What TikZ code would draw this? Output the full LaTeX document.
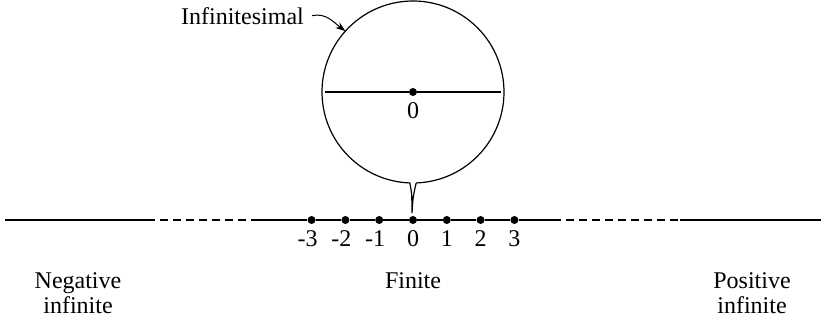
\documentclass[tikz,border=0pt]{standalone}
\usepackage{fontspec}
\setmainfont{Liberation Serif}
\usetikzlibrary{arrows.meta,positioning}
\tikzset{
  >={Stealth[length=10pt,width=7pt]},
  every node/.style={font=\fontsize{24}{25}\selectfont},
  axis/.style={line width=1.3pt},
  far/.style={axis,dash pattern=on 8pt off 5pt},
  dot/.style={circle,fill=black,inner sep=0pt,minimum size=8pt},
  num/.style={inner sep=1pt},
  region/.style={align=center,anchor=base,inner sep=0pt},
  bubble/.style={circle,minimum size=182pt,inner sep=0pt,outer sep=0pt},
}

\begin{document}
\begin{tikzpicture}[x=1pt,y=1pt]
  \useasboundingbox (0,0) rectangle (821,-323);

  % the real line with its finite points
  \foreach \n in {-3,...,3}{
    \node[dot] (d\n) at ({413+33.8*\n},-220) {};
  }
  \foreach \n in {0,1,2,3}
    \node[num,below=5pt of d\n] (l\n) {\n};
  \foreach \n in {1,2,3}
    \node[num,below=5pt of d-\n] (l-\n) {\llap{-}\n};

  \coordinate (ax0) at (5,-220);
  \coordinate (ax1) at (147,-220);
  \coordinate (ax2) at (257,-220);
  \coordinate (ax3) at (553,-220);
  \coordinate (ax4) at (680,-220);
  \coordinate (ax5) at (821,-220);
  \draw[axis] (ax0) -- (ax1);
  \draw[far] (ax1) -- (ax2);
  \draw[axis] (ax2) -- (d-3) -- (d-2) -- (d-1) -- (d0) -- (d1) -- (d2) -- (d3) -- (ax3);
  \draw[far] (ax3) -- (ax4);
  \draw[axis] (ax4) -- (ax5);

  % regions (base is the last line)
  \node[region] (neg) at (78,-313) {Negative\\infinite};
  \node[region] (fin) at (413,-288) {Finite};
  \node[region] (pos) at (752,-313) {Positive\\infinite};

  % magnified view round 0
  \node[bubble] (zoom) at (413,-92) {};
  \coordinate (tip) at (412,-213);
  \draw[line width=1.2pt] (zoom.272) arc[start angle=272,end angle=628,radius=91]
    .. controls +(2,-10) .. (tip) .. controls +(1,16) .. (zoom.272);
  \node[dot] (z0) at (zoom.center) {};
  \draw[line width=2.4pt] ([xshift=3pt]zoom.west) -- (z0) -- ([xshift=-3pt]zoom.east);
  \node[num,below=5pt of z0] (lz0) {0};

  \node[anchor=base east,inner sep=0pt] (inf) at (304,-25) {Infinitesimal};
  \draw[->,line width=1pt] ([xshift=8pt,yshift=1pt]inf.east) .. controls +(14,3) and +(-12,9) .. (zoom.138);
\end{tikzpicture}
\end{document}
